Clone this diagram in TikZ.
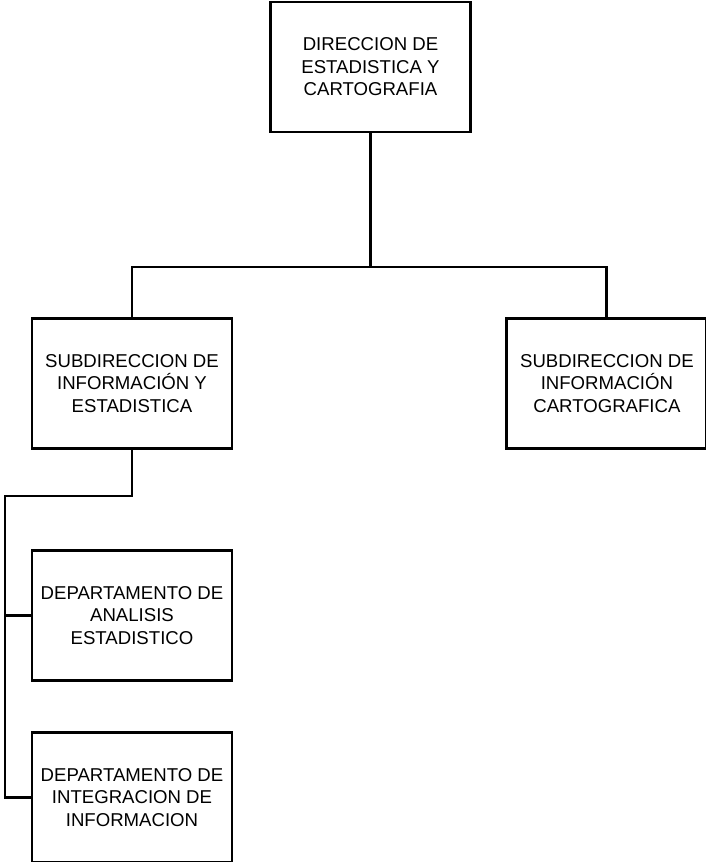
\documentclass[tikz,border=0pt]{standalone}
\usepackage{fontspec}
\setmainfont{Liberation Sans}
\usetikzlibrary{positioning}

\tikzset{
  unit/.style={draw, line width=2.9pt, rectangle, minimum width=200pt, minimum height=130pt,
    align=center, inner sep=0pt, font=\fontsize{18.6}{22.5}\selectfont},
  link/.style={line width=2.9pt}
}

\begin{document}
\begin{tikzpicture}[x=1pt, y=1pt]
\useasboundingbox (0,0) rectangle (706,-862);

%% DIRECCION
\node[unit](direccion) at (370.5,-67){DIRECCION DE\\ESTADISTICA Y\\CARTOGRAFIA};

%% SUBDIRECCIONES
\node[unit](sub_info) at (132,-383.5){SUBDIRECCION DE\\INFORMACIÓN Y\\ESTADISTICA};
\node[unit, right=272pt of sub_info](sub_carto){SUBDIRECCION DE\\INFORMACIÓN\\CARTOGRAFICA};

%% DEPARTAMENTOS
\node[unit, below=99pt of sub_info](dep_analisis){DEPARTAMENTO DE\\ANALISIS\\ESTADISTICO};
\node[unit, below=49pt of dep_analisis](dep_integ){DEPARTAMENTO DE\\INTEGRACION DE\\INFORMACION};

% connectors
\coordinate (bus) at (370.5,-267);
\coordinate (spine) at (5,-496);

\draw[link] (direccion.south) -- (bus);
\draw[link] (sub_info.north) |- (bus) -| (sub_carto.north);

\draw[link] (sub_info.south) |- (spine) |- (dep_integ.west);
\draw[link] (spine |- dep_analisis.west) -- (dep_analisis.west);

\end{tikzpicture}
\end{document}
